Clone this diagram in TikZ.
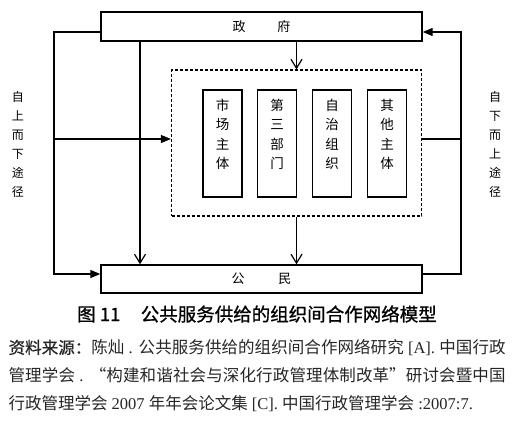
\documentclass[tikz,border=0pt]{standalone}
\usepackage{fontspec}
\setmainfont{Liberation Serif}
\newfontfamily\cjk{Noto Sans CJK SC}
\newfontfamily\cjkheavy[FakeBold=0.9]{Noto Sans CJK SC}
\usetikzlibrary{arrows.meta}
\XeTeXlinebreaklocale "zh"
\XeTeXlinebreakskip=0pt plus 1pt
\newcommand{\lat}[1]{{\rmfamily#1}}

\begin{document}
\begin{tikzpicture}[x=1pt,y=-1pt,line width=1.2pt,
	tri/.tip={Triangle[length=10pt,width=8pt]},
	barb/.tip={Straight Barb[length=9pt,width=11pt]},
	bigbox/.style={draw,line width=1.4pt,minimum width=321pt,minimum height=29pt,inner sep=0pt,
		font={\cjk\fontsize{13pt}{15pt}\selectfont}},
	unitbox/.style={draw,line width=1.4pt,minimum width=39pt,minimum height=107pt,inner sep=0pt,
		align=center,font={\cjk\fontsize{13.5pt}{19.3pt}\selectfont}},
	netbox/.style={draw,dashed,dash pattern=on 3pt off 2pt,minimum width=250pt,minimum height=146pt},
	sidetext/.style={align=center,inner sep=0pt,font={\cjk\fontsize{12pt}{19pt}\selectfont}}]
	\useasboundingbox (0,0) rectangle (524,425);
	
	\path
	(54,32) coordinate (L1)
	(54,139) coordinate (L2)
	(54,274) coordinate (L3)
	(461,32) coordinate (R1)
	(461,139) coordinate (R2)
	(461,274) coordinate (R3)
	(140,0) coordinate (M);
	
	\node[bigbox] (gov) at (261.5,26.5) {政\hspace{32pt}府};
	\node[bigbox,minimum height=28pt] (cit) at (261.5,279) {公\hspace{34pt}民};
	\node[netbox] (net) at (296.5,143) {};
	
	\node[unitbox] (u1) at (222.5,143.5) {市\\场\\主\\体\\ ~};
	\node[unitbox] (u2) at (277,143.5) {第\\三\\部\\门\\ ~};
	\node[unitbox] (u3) at (332,143.5) {自\\治\\组\\织\\ ~};
	\node[unitbox] (u4) at (387,143.5) {其\\他\\主\\体\\ ~};
	
	\node[sidetext] (down) at (18,144.5) {自\\上\\而\\下\\途\\径};
	\node[sidetext] (up) at (495,144.5) {自\\下\\而\\上\\途\\径};
	
	% top-down paths
	\draw[-tri] (gov.west |- L1) -- (L1) -- (L3) -- (cit.west |- L3);
	\draw[-tri] (L2) -- (net.west |- L2);
	\draw[-barb] (gov.south -| M) -- (cit.north -| M);
	\draw[-barb] (gov.south -| net.north) -- (net.north);
	\draw[-barb] (net.south) -- (cit.north -| net.south);
	
	% bottom-up paths
	\draw (net.east |- R2) -- (R2);
	\draw[-tri] (cit.east |- R3) -- (R3) -- (R1) -- (gov.east |- R1);
	
	\node[font={\cjkheavy\fontsize{18.5pt}{20pt}\selectfont}] (cap) at (257,314)
	{图 11\hspace{1.1em}公共服务供给的组织间合作网络模型};
	
	\node[anchor=north west,inner sep=0pt,text width=497pt,align=justify,text=black!85,
		font={\cjk\fontsize{16.5pt}{28pt}\selectfont}] (src) at (8,339)
	{{\cjkheavy 资料来源：}陈灿\lat{ . }公共服务供给的组织间合作网络研究\lat{ [A]. }中国行政\linebreak
		管理学会\lat{ . }“构建和谐社会与深化行政管理体制改革”研讨会暨中国\linebreak
		行政管理学会\lat{ 2007 }年年会论文集\lat{ [C]. }中国行政管理学会\lat{ :2007:7.}};
\end{tikzpicture}
\end{document}
